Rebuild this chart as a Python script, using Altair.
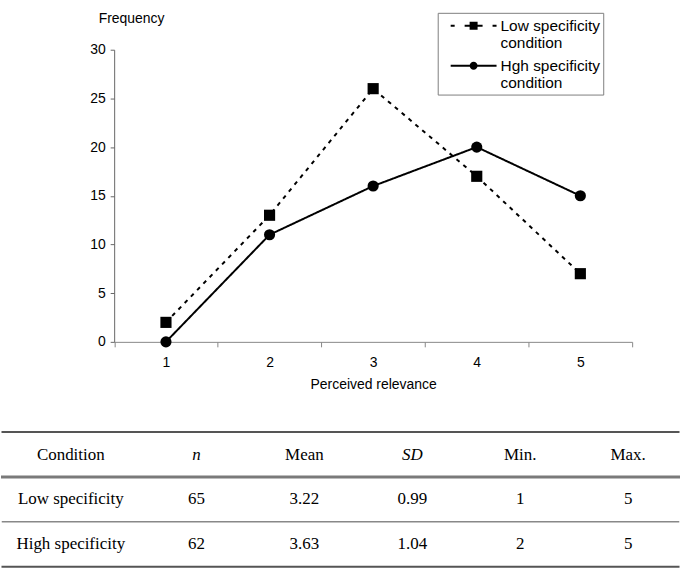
import altair as alt
import pandas as pd

# ---------------- data ----------------
relevance = [1, 2, 3, 4, 5]
low_freq = [2, 13, 26, 17, 7]
high_freq = [0, 11, 16, 20, 15]
series_names = ["Low specificity condition", "Hgh specificity condition"]
y_ticks = [0, 5, 10, 15, 20, 25, 30]

table_header = ["Condition", "n", "Mean", "SD", "Min.", "Max."]
row_names = ["Low specificity", "High specificity"]
n_vals = ["65", "62"]
mean_vals = ["3.22", "3.63"]
sd_vals = ["0.99", "1.04"]
min_vals = ["1", "2"]
max_vals = ["5", "5"]

# ---------------- tables built from the arrays ----------------
line_df = pd.DataFrame({
    "relevance": relevance + relevance,
    "frequency": low_freq + high_freq,
    "condition": [series_names[0]] * len(relevance) + [series_names[1]] * len(relevance),
})

stat_cols = table_header[1:]
row_keys = ["header"] + row_names
records = []
for c in stat_cols:
    records.append({"row": "header", "col": c, "text": c})
for i, r in enumerate(row_names):
    for c, vals in zip(stat_cols, [n_vals, mean_vals, sd_vals, min_vals, max_vals]):
        records.append({"row": r, "col": c, "text": vals[i]})
stat_df = pd.DataFrame(records)
label_df = pd.DataFrame({"row": row_keys, "text": [table_header[0]] + row_names})
rule_df = pd.DataFrame({"row": row_keys})

SANS = "Liberation Sans"
SERIF = "Liberation Serif"

# ---------------- line chart ----------------
x_enc = alt.X(
    "relevance:O",
    scale=alt.Scale(type="band", range=[113.5, 633], paddingInner=0, paddingOuter=0),
    axis=alt.Axis(
        title="Perceived relevance", labelAngle=0, tickBand="extent", offset=-78,
        domainColor="#888888", tickColor="#888888", tickSize=5, labelPadding=9,
        titlePadding=8, grid=False, labelFont=SANS, titleFont=SANS,
        labelFontSize=14, titleFontSize=14, labelColor="black", titleColor="black",
        titleFontWeight="normal",
    ),
)
y_enc = alt.Y(
    "frequency:Q",
    scale=alt.Scale(domain=[0, 30], range=[342, 49], nice=False),
    axis=alt.Axis(
        values=y_ticks, title="Frequency", titleAngle=0, titleX=-16, titleY=22,
        titleAlign="left", titleBaseline="alphabetic", offset=-113.5, grid=False,
        domainColor="#666666", tickColor="#666666", tickSize=4, labelPadding=5,
        labelFont=SANS, titleFont=SANS, labelFontSize=14, titleFontSize=14,
        labelColor="black", titleColor="black", titleFontWeight="normal",
    ),
)

lines = alt.Chart(line_df).mark_line(color="black", strokeWidth=2).encode(
    x=x_enc,
    y=y_enc,
    strokeDash=alt.StrokeDash(
        "condition:N",
        scale=alt.Scale(domain=series_names, range=[[4, 5], [1, 0]]),
        legend=None,
    ),
)

points = alt.Chart(line_df).mark_point(filled=True, color="black", size=125, opacity=1).encode(
    x=x_enc,
    y=y_enc,
    shape=alt.Shape(
        "condition:N",
        scale=alt.Scale(domain=series_names, range=["square", "circle"]),
        legend=None,
    ),
)

# legend glyphs: line + marker drawn as custom symbol paths
low_glyph = ("M0,-0.1H0.4V0.1H0Z M1.4,-0.1H1.9V0.1H1.4Z M1.9,-0.4H2.7V0.4H1.9Z "
             "M2.7,-0.1H3.2V0.1H2.7Z M4.2,-0.1H4.6V0.1H4.2Z")
high_glyph = ("M0,-0.1H4.6V0.1H0Z M1.9,0A0.4,0.4 0 1,1 2.7,0"
              "A0.4,0.4 0 1,1 1.9,0Z")

legend_layer = alt.Chart(line_df).mark_point(filled=True, color="black", opacity=0).encode(
    x=x_enc,
    y=y_enc,
    shape=alt.Shape(
        "condition:N",
        scale=alt.Scale(domain=series_names, range=[low_glyph, high_glyph]),
        legend=alt.Legend(
            title=None, orient="none", legendX=438, legendY=12,
            symbolSize=400, symbolStrokeWidth=0, symbolFillColor="black", symbolOpacity=1,
            labelExpr="[replace(datum.label, ' condition', ''), 'condition']",
            labelFont=SANS, labelFontSize=15.5, labelColor="black", labelOffset=40,
            labelLimit=300, labelBaseline="middle", padding=3, rowPadding=4,
            strokeColor="#808080", fillColor="white",
        ),
    ),
)

line_chart = alt.layer(lines, points, legend_layer).resolve_scale(
    shape="independent"
).properties(width=681, height=420)

# ---------------- table ----------------
y_row = alt.Y(
    "row:N",
    scale=alt.Scale(type="band", domain=row_keys, range=[12.5, 147.5], paddingInner=0, paddingOuter=0),
    axis=None,
)
x_col = alt.X(
    "col:N",
    scale=alt.Scale(type="point", domain=stat_cols, range=[196, 629], padding=0),
    axis=None,
)
text_kw = dict(font=SERIF, fontSize=17, color="black", baseline="middle", align="center")

stat_plain = alt.Chart(stat_df).transform_filter(
    "datum.row != 'header' || (datum.col != 'n' && datum.col != 'SD')"
).mark_text(**text_kw).encode(x=x_col, y=y_row, text="text:N")

stat_italic = alt.Chart(stat_df).transform_filter(
    "datum.row == 'header' && (datum.col == 'n' || datum.col == 'SD')"
).mark_text(fontStyle="italic", **text_kw).encode(x=x_col, y=y_row, text="text:N")

first_col = alt.Chart(label_df).mark_text(**text_kw).encode(
    x=alt.value(70), y=y_row, text="text:N"
)


def table_rule(row, pos, width, color):
    return alt.Chart(rule_df).transform_filter(alt.datum.row == row).mark_rule(
        color=color, strokeWidth=width, strokeCap="square"
    ).encode(
        x=alt.value(1.5),
        x2=alt.value(679.5),
        y=alt.Y("row:N", scale=alt.Scale(type="band", domain=row_keys, range=[12.5, 147.5],
                                         paddingInner=0, paddingOuter=0),
                axis=None, bandPosition=pos),
    )


rules = [
    table_rule("header", 0, 2, "#555555"),
    table_rule("header", 1, 3, "#7a7a7a"),
    table_rule(row_names[0], 1, 1.5, "#888888"),
    table_rule(row_names[1], 1, 2, "#555555"),
]

table_chart = alt.layer(*rules, stat_plain, stat_italic, first_col).properties(width=681, height=161)

chart = alt.vconcat(line_chart, table_chart, spacing=0).properties(
    padding=0, background="white"
).configure_view(stroke=None)

chart.save("out.html", embed_options={"renderer": "svg", "actions": False})
